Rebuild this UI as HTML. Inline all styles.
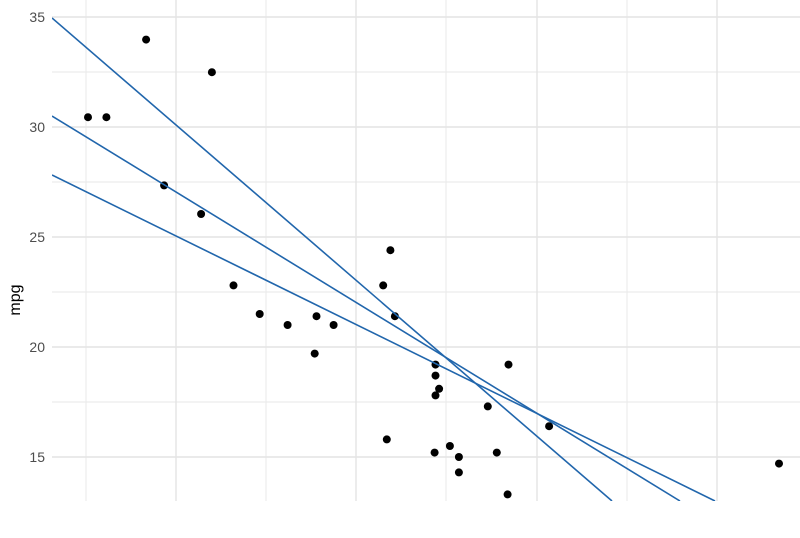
<!DOCTYPE html>
<html><head><meta charset="utf-8"><style>body{margin:0;background:#fff}</style></head><body>
<svg width="800" height="533" xmlns="http://www.w3.org/2000/svg" font-family="Liberation Sans, sans-serif">
<defs><clipPath id="c"><rect x="52" y="0" width="748" height="501"/></clipPath></defs>
<g stroke="#ececec" stroke-width="1.2">
<line x1="52" x2="800" y1="72" y2="72"/><line x1="52" x2="800" y1="182" y2="182"/><line x1="52" x2="800" y1="292" y2="292"/><line x1="52" x2="800" y1="402" y2="402"/>
<line x1="86" x2="86" y1="0" y2="501"/><line x1="266" x2="266" y1="0" y2="501"/><line x1="446" x2="446" y1="0" y2="501"/><line x1="627" x2="627" y1="0" y2="501"/>
</g>
<g stroke="#e4e4e4" stroke-width="1.4">
<line x1="52" x2="800" y1="17" y2="17"/><line x1="52" x2="800" y1="127" y2="127"/><line x1="52" x2="800" y1="237" y2="237"/><line x1="52" x2="800" y1="347" y2="347"/><line x1="52" x2="800" y1="457" y2="457"/>
<line x1="176" x2="176" y1="0" y2="501"/><line x1="356" x2="356" y1="0" y2="501"/><line x1="537" x2="537" y1="0" y2="501"/><line x1="717" x2="717" y1="0" y2="501"/>
</g>
<g font-size="14" fill="#4d4d4d" text-anchor="end">
<text x="45" y="22">35</text><text x="45" y="132">30</text><text x="45" y="242">25</text><text x="45" y="352">20</text><text x="45" y="462">15</text>
</g>
<text transform="translate(20,300) rotate(-90)" font-size="16" fill="#000" text-anchor="middle">mpg</text>
<g clip-path="url(#c)" fill="#000">
<circle cx="287.6" cy="325" r="4"/><circle cx="333.6" cy="325" r="4"/><circle cx="233.5" cy="285.4" r="4"/><circle cx="394.9" cy="316.2" r="4"/>
<circle cx="435.5" cy="375.6" r="4"/><circle cx="439.1" cy="388.8" r="4"/><circle cx="458.9" cy="472.4" r="4"/><circle cx="390.4" cy="250.2" r="4"/>
<circle cx="383.2" cy="285.4" r="4"/><circle cx="435.5" cy="364.6" r="4"/><circle cx="435.5" cy="395.4" r="4"/><circle cx="549.1" cy="426.2" r="4"/>
<circle cx="487.8" cy="406.4" r="4"/><circle cx="496.8" cy="452.6" r="4"/><circle cx="779" cy="463.6" r="4"/><circle cx="211.9" cy="72.2" r="4"/>
<circle cx="106.4" cy="117.2" r="4"/><circle cx="146.1" cy="39.6" r="4"/><circle cx="259.7" cy="314" r="4"/><circle cx="449.9" cy="446" r="4"/>
<circle cx="434.6" cy="452.6" r="4"/><circle cx="507.6" cy="494.4" r="4"/><circle cx="508.5" cy="364.6" r="4"/><circle cx="164.1" cy="185.4" r="4"/>
<circle cx="201.1" cy="214" r="4"/><circle cx="88" cy="117.2" r="4"/><circle cx="386.8" cy="439.4" r="4"/><circle cx="314.7" cy="353.6" r="4"/>
<circle cx="458.9" cy="457" r="4"/><circle cx="316.5" cy="316.2" r="4"/>
<g stroke="#2166ac" stroke-width="1.6" fill="none">
<line x1="52" y1="18" x2="612" y2="501"/>
<line x1="52" y1="116" x2="680" y2="501"/>
<line x1="52" y1="175" x2="715" y2="501"/>
</g>
</g>
</svg>
</body></html>
